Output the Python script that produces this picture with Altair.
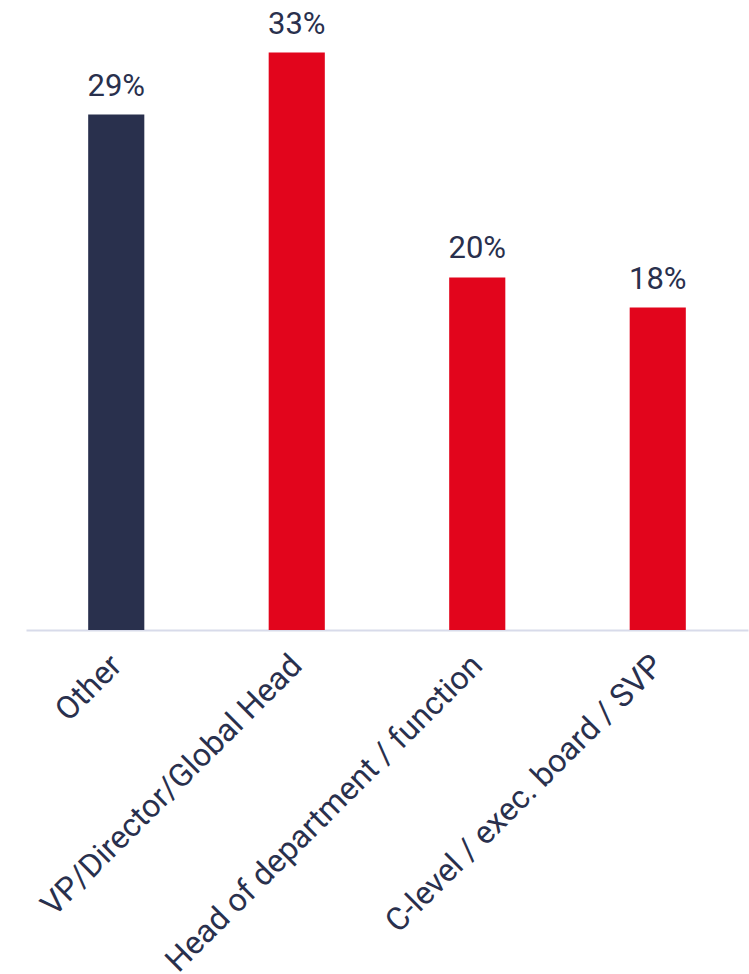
import altair as alt
import pandas as pd

categories = ["Other", "VP/Director/Global Head", "Head of department / function", "C-level / exec. board / SVP"]
shares = [0.291, 0.326, 0.199, 0.182]
groups = ["other", "role", "role", "role"]

NAVY = "#29304D"
RED = "#E2051C"

df = pd.DataFrame({"category": categories, "share": shares, "group": groups})

x = alt.X(
    "category:N",
    sort=None,
    title=None,
    scale=alt.Scale(paddingInner=0.689, paddingOuter=0.3445),
    axis=alt.Axis(
        labelAngle=-45,
        labelAlign="right",
        labelBaseline="middle",
        labelFont="Roboto",
        labelFontSize=32,
        labelColor=NAVY,
        labelPadding=30,
        ticks=False,
        domainColor="#D8DBEA",
        domainWidth=2,
        grid=False,
        labelLimit=0,
    ),
)
y = alt.Y("share:Q", axis=None, scale=alt.Scale(domain=[0, 0.35], nice=False, zero=True))

bars = alt.Chart(df).mark_bar().encode(
    x=x,
    y=y,
    color=alt.Color("group:N", scale=alt.Scale(domain=["other", "role"], range=[NAVY, RED]), legend=None),
)

labels = alt.Chart(df).mark_text(
    font="Roboto", fontSize=31, color=NAVY, baseline="alphabetic", dy=-19
).encode(
    x=alt.X("category:N", sort=None),
    y=y,
    text=alt.Text("share:Q", format=".0%"),
)

chart = (
    alt.layer(bars, labels)
    .properties(
        width=722,
        height=620,
        autosize=alt.AutoSizeParams(type="none"),
        padding={"left": 26, "top": 10, "right": 1, "bottom": 344},
        background="white",
    )
    .configure_view(strokeWidth=0)
)

chart.save("out.html", embed_options={"renderer": "svg", "actions": False})
